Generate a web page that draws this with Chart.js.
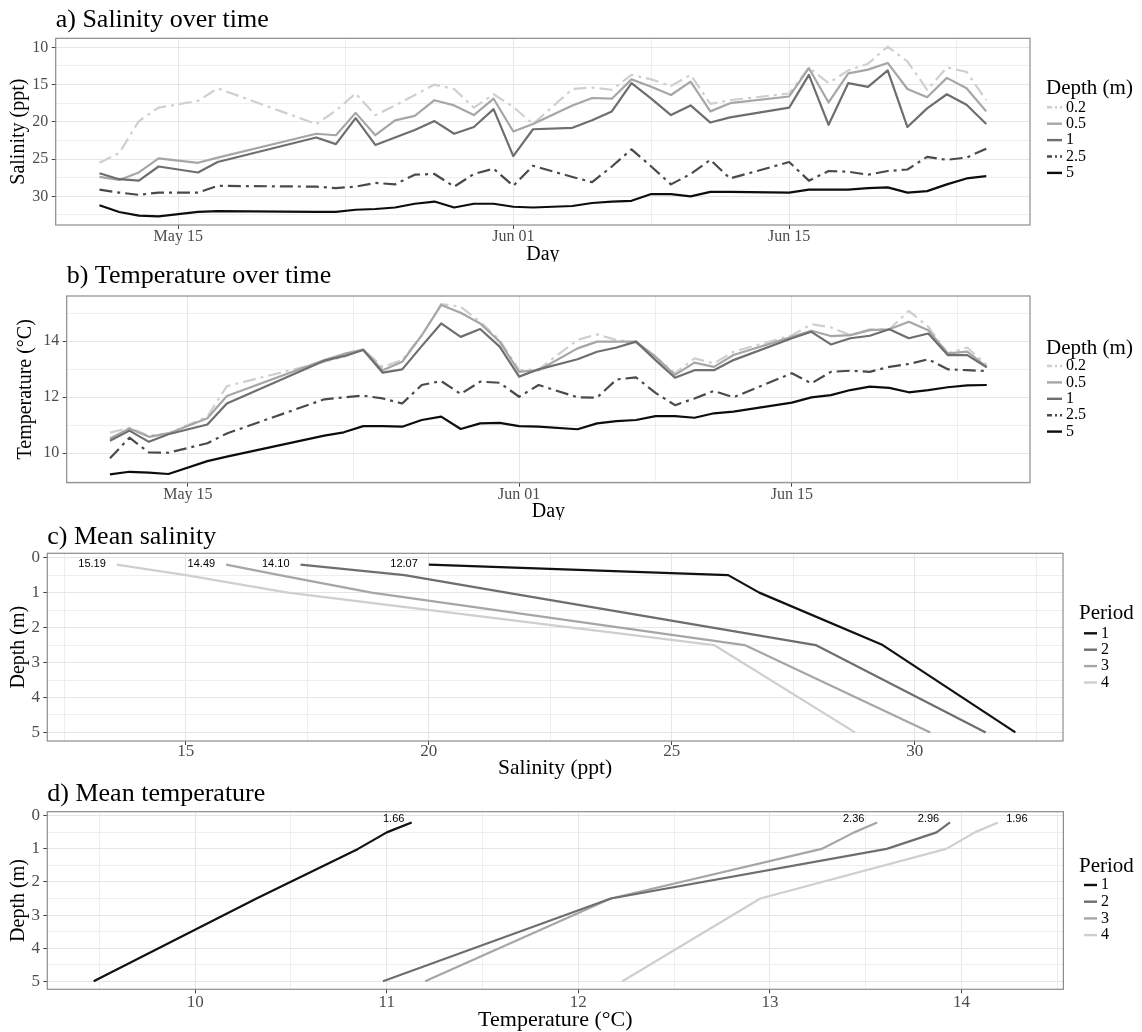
<!DOCTYPE html>
<html>
<head>
<meta charset="utf-8">
<title>Salinity and temperature profiles</title>
<script src="https://cdn.jsdelivr.net/npm/chart.js@4.4.1/dist/chart.umd.min.js"></script>
<style>
  html, body { margin: 0; padding: 0; background: #ffffff; }
  #page { position: relative; width: 1142px; height: 1032px; overflow: hidden; background: #ffffff; }
  #page canvas { position: absolute; left: 0; }
</style>
</head>
<body>
<div id="page">
  <canvas id="salTime" width="1142" height="262" style="top:0px;width:1142px;height:262px"></canvas>
  <canvas id="tmpTime" width="1142" height="258" style="top:262px;width:1142px;height:258px"></canvas>
  <canvas id="salProfile" width="1142" height="260" style="top:520px;width:1142px;height:260px"></canvas>
  <canvas id="tmpProfile" width="1142" height="252" style="top:780px;width:1142px;height:252px"></canvas>
</div>
<script>
// ---------------- data ----------------
// sampling dates (MM-DD) shared by the salinity and temperature series
const sampleDates = ['05-11','05-12','05-13','05-14','05-16','05-17','05-22','05-23','05-24','05-25',
  '05-26','05-27','05-28','05-29','05-30','05-31','06-01','06-02','06-04','06-05','06-06','06-07',
  '06-08','06-09','06-10','06-11','06-12','06-15','06-16','06-17','06-18','06-19','06-20','06-21',
  '06-22','06-23','06-24','06-25'];
const depthLevels = ['0.2', '0.5', '1', '2.5', '5'];

// salinity (ppt) by depth
const sal02 = [25.5, 24.2, 19.9, 18.1, 17.2, 15.5, 20.3, 18.5, 16.2, 19.1, 17.8, 16.4, 15.0, 15.6, 18.1, 16.3, 18.0, 20.3, 15.6, 15.4, 15.7, 13.7, 14.3, 15.2, 13.7, 17.6, 17.1, 16.2, 12.7, 14.8, 13.1, 12.2, 9.9, 11.9, 15.7, 12.7, 13.3, 17.1];
const sal05 = [27.4, 27.8, 26.8, 24.9, 25.5, 24.8, 21.6, 21.8, 18.8, 21.8, 19.8, 19.2, 17.1, 17.8, 19.1, 16.9, 21.3, 20.3, 17.8, 16.8, 16.9, 14.3, 15.3, 16.4, 14.6, 18.6, 17.5, 16.6, 12.8, 17.4, 13.5, 13.0, 12.1, 15.6, 16.7, 14.1, 15.5, 18.6];
const sal1  = [26.9, 27.7, 27.9, 26.0, 26.8, 25.4, 22.1, 23.0, 19.5, 23.1, 22.1, 21.1, 19.9, 21.6, 20.7, 18.3, 24.6, 21.0, 20.8, 19.8, 18.6, 14.8, 16.9, 19.1, 17.8, 20.1, 19.4, 18.1, 13.7, 20.4, 14.8, 15.3, 13.1, 20.7, 18.2, 16.3, 17.7, 20.3];
const sal25 = [29.1, 29.5, 29.8, 29.5, 29.5, 28.6, 28.7, 28.9, 28.7, 28.2, 28.4, 27.1, 27.0, 28.7, 27.0, 26.3, 28.6, 25.9, 27.4, 28.1, 26.0, 23.7, 26.0, 28.4, 27.0, 25.1, 27.6, 25.4, 27.9, 26.6, 26.7, 27.1, 26.6, 26.4, 24.7, 25.1, 24.8, 23.6];
const sal5  = [31.2, 32.1, 32.6, 32.7, 32.1, 32.0, 32.1, 32.1, 31.8, 31.7, 31.5, 31.0, 30.7, 31.5, 31.0, 31.0, 31.4, 31.5, 31.3, 30.9, 30.7, 30.6, 29.7, 29.7, 30.0, 29.4, 29.4, 29.5, 29.1, 29.1, 29.1, 28.9, 28.8, 29.5, 29.3, 28.4, 27.6, 27.3];

// temperature (deg C) by depth
const tmp02 = [10.73, 10.90, 10.62, 10.70, 11.30, 12.39, 13.26, 13.44, 13.70, 13.08, 13.32, 14.20, 15.32, 15.23, 14.69, 14.04, 12.96, 12.99, 14.04, 14.24, 14.04, 13.94, 13.44, 12.85, 13.38, 13.20, 13.62, 14.21, 14.60, 14.49, 14.21, 14.42, 14.42, 15.08, 14.51, 13.56, 13.77, 13.14];
const tmp05 = [10.52, 10.88, 10.58, 10.70, 11.24, 12.04, 13.32, 13.54, 13.70, 12.96, 13.26, 14.20, 15.29, 15.01, 14.63, 13.98, 12.90, 12.96, 13.74, 13.98, 13.98, 13.98, 13.44, 12.79, 13.23, 13.08, 13.50, 14.15, 14.37, 14.18, 14.21, 14.39, 14.42, 14.69, 14.39, 13.56, 13.62, 13.08];
const tmp1  = [10.44, 10.80, 10.40, 10.67, 11.02, 11.77, 13.30, 13.46, 13.68, 12.87, 12.99, 13.82, 14.63, 14.15, 14.43, 13.80, 12.73, 12.99, 13.35, 13.62, 13.77, 13.98, 13.32, 12.69, 12.96, 12.96, 13.32, 14.10, 14.33, 13.88, 14.10, 14.19, 14.42, 14.10, 14.27, 13.50, 13.50, 13.06];
const tmp25 = [9.81, 10.55, 10.02, 10.01, 10.35, 10.70, 11.92, 11.99, 12.05, 11.95, 11.77, 12.43, 12.57, 12.11, 12.55, 12.51, 12.01, 12.43, 11.99, 11.98, 12.63, 12.70, 12.15, 11.71, 11.95, 12.22, 11.99, 12.85, 12.49, 12.90, 12.94, 12.90, 13.08, 13.18, 13.35, 12.99, 12.96, 12.93];
const tmp5  = [9.24, 9.33, 9.30, 9.25, 9.71, 9.87, 10.62, 10.74, 10.96, 10.96, 10.94, 11.18, 11.30, 10.86, 11.06, 11.08, 10.96, 10.94, 10.85, 11.06, 11.14, 11.18, 11.32, 11.32, 11.26, 11.42, 11.48, 11.80, 11.99, 12.07, 12.25, 12.37, 12.33, 12.17, 12.25, 12.35, 12.42, 12.43];

// date axis ticks
const dateTicks = ['05-15', '06-01', '06-15'];
const dateTickLabels = ['May 15', 'Jun 01', 'Jun 15'];
const dateMinorTicks = ['05-23.5', '06-08', '06-23.5'];

// mean profiles per period
const profileDepths = [0.2, 0.5, 1, 2.5, 5];
const periodLabels = ['1', '2', '3', '4'];
const meanSalP1 = [20.00, 26.16, 26.80, 29.34, 32.07];
const meanSalP2 = [17.36, 19.50, 21.60, 27.96, 31.46];
const meanSalP3 = [15.83, 16.93, 18.82, 26.50, 30.32];
const meanSalP4 = [13.58, 15.00, 17.10, 25.87, 28.77];
const meanTmpP1 = [11.13, 11.00, 10.85, 10.32, 9.47];
const meanTmpP2 = [13.94, 13.87, 13.61, 12.17, 10.98];
const meanTmpP3 = [13.56, 13.44, 13.27, 12.17, 11.20];
const meanTmpP4 = [14.19, 14.07, 13.92, 12.95, 12.23];

const salTicks = [10, 15, 20, 25, 30];
const salMinor = [12.5, 17.5, 22.5, 27.5, 32.5];
const tmpTicks = [10, 12, 14];
const tmpMinor = [9, 11, 13, 15];
const depthTicks = [0, 1, 2, 3, 4, 5];
const depthMinor = [0.5, 1.5, 2.5, 3.5, 4.5];
const profSalTicks = [15, 20, 25, 30];
const profSalMinor = [12.5, 17.5, 22.5, 27.5, 32.5];
const profTmpTicks = [10, 11, 12, 13, 14];
const profTmpMinor = [9.5, 10.5, 11.5, 12.5, 13.5, 14.5];

// ---------------- helpers ----------------
const SERIF = '"Liberation Serif", "Times New Roman", serif';
const SANS = '"Liberation Sans", Arial, sans-serif';
const GRID_MAJOR = '#e6e6e6';
const GRID_MINOR = '#eeeeee';
const TICK_MARK = '#444444';
const AXIS_TEXT = '#4d4d4d';

// day count from 1 May (1 Jun = 32)
function dayNum(md) {
  const [m, d] = md.split('-');
  return (+m === 5 ? 0 : 31) + parseFloat(d);
}

const depthColors = ['#cfcfcf', '#a6a6a6', '#6e6e6e', '#4a4a4a', '#0d0d0d'];
const depthDash = [[13, 5, 3, 5], [], [], [13, 5, 3, 5], []];
const depthKeyDash = [[5, 3, 2, 3], [], [], [5, 3, 2, 3], []];
const periodColors = ['#111111', '#6e6e6e', '#a6a6a6', '#cfcfcf'];

Chart.defaults.font.family = SERIF;

function tickSet(majors, minors) {
  return majors.concat(minors).sort((a, b) => a - b);
}

function gridFor(majors, tickLen) {
  return {
    color: c => (c.tick && majors.includes(c.tick.value)) ? GRID_MAJOR : GRID_MINOR,
    lineWidth: 1,
    drawTicks: true,
    tickLength: tickLen,
    tickWidth: 1,
    tickColor: c => (c.tick && majors.includes(c.tick.value)) ? TICK_MARK : 'rgba(0,0,0,0)'
  };
}

// frame around the plotting panel
const panelFrame = {
  id: 'panelFrame',
  afterDatasetsDraw(chart) {
    const { ctx, chartArea: a } = chart;
    ctx.save();
    ctx.strokeStyle = '#8c8c8c';
    ctx.lineWidth = 1.2;
    ctx.strokeRect(a.left, a.top, a.right - a.left, a.bottom - a.top);
    ctx.restore();
  }
};

// key to the right of the panel
const sideLegend = {
  id: 'sideLegend',
  afterDraw(chart, args, o) {
    const ctx = chart.ctx;
    ctx.save();
    ctx.textAlign = 'left';
    ctx.textBaseline = 'middle';
    ctx.fillStyle = '#000000';
    ctx.font = o.titleSize + 'px ' + SERIF;
    ctx.fillText(o.title, o.x, o.titleY);
    ctx.font = o.labelSize + 'px ' + SERIF;
    chart.data.datasets.forEach((ds, i) => {
      const y = o.firstY + i * o.step;
      ctx.save();
      ctx.strokeStyle = ds.borderColor;
      ctx.lineWidth = o.keyWidth;
      ctx.lineCap = 'butt';
      ctx.setLineDash((o.keyDash && o.keyDash[i]) || []);
      ctx.beginPath();
      ctx.moveTo(o.keyX0, y);
      ctx.lineTo(o.keyX1, y);
      ctx.stroke();
      ctx.restore();
      ctx.fillText(ds.label, o.labelX, y);
    });
    ctx.restore();
  }
};

// surface-to-bottom difference written next to each profile's surface point
const profileSpread = {
  id: 'profileSpread',
  afterDatasetsDraw(chart, args, o) {
    const ctx = chart.ctx;
    ctx.save();
    ctx.font = '11px ' + SANS;
    ctx.fillStyle = '#000000';
    ctx.textBaseline = 'middle';
    chart.data.datasets.forEach((ds, i) => {
      const pts = chart.getDatasetMeta(i).data;
      const first = ds.data[0].x;
      const last = ds.data[ds.data.length - 1].x;
      const txt = (Math.round(Math.abs(last - first) * 100) / 100).toFixed(2);
      ctx.textAlign = o.align[i];
      ctx.fillText(txt, pts[0].x + o.dx[i], pts[0].y + o.dy);
    });
    ctx.restore();
  }
};

// ---------------- time series panels ----------------
function timeChart(canvasId, titleText, yTitle, series, yCfg, geo) {
  const xs = sampleDates.map(dayNum);
  const majorsX = dateTicks.map(dayNum);
  const minorsX = dateMinorTicks.map(dayNum);
  const datasets = series.map((vals, i) => ({
    label: depthLevels[i],
    data: vals.map((v, j) => ({ x: xs[j], y: v })),
    borderColor: depthColors[i],
    borderWidth: 2.2,
    borderDash: depthDash[i],
    borderJoinStyle: 'round',
    borderCapStyle: 'butt',
    pointRadius: 0,
    tension: 0,
    fill: false,
    order: series.length - 1 - i
  }));
  return new Chart(document.getElementById(canvasId), {
    type: 'line',
    data: { datasets },
    plugins: [panelFrame, sideLegend],
    options: {
      responsive: false,
      animation: false,
      events: [],
      devicePixelRatio: 1,
      layout: { padding: { left: 0, right: 1142 - geo.right, top: 0, bottom: 0 } },
      plugins: {
        legend: { display: false },
        tooltip: { enabled: false },
        title: {
          display: true, text: titleText, align: 'start', fullSize: false, color: '#000000',
          font: { family: SERIF, size: 26, weight: 'normal', lineHeight: 1 },
          padding: { top: geo.titleTop, bottom: geo.titleBottom }
        },
        sideLegend: geo.legend
      },
      scales: {
        x: {
          type: 'linear',
          min: 8.78, max: 58.22,
          afterBuildTicks: s => { s.ticks = tickSet(majorsX, minorsX).map(v => ({ value: v })); },
          afterFit: s => { s.height = geo.xAxisH; },
          grid: gridFor(majorsX, 4),
          border: { display: false },
          ticks: {
            autoSkip: false, maxRotation: 0, minRotation: 0, padding: 0, color: AXIS_TEXT,
            font: { family: SERIF, size: 16, lineHeight: 1 },
            callback: v => { const k = majorsX.indexOf(v); return k >= 0 ? dateTickLabels[k] : ''; }
          },
          title: {
            display: true, text: 'Day', color: '#000000',
            font: { family: SERIF, size: 20, lineHeight: 1 },
            padding: { top: 0, bottom: geo.xTitleBottom }
          }
        },
        y: {
          type: 'linear',
          reverse: yCfg.reverse,
          min: yCfg.min, max: yCfg.max,
          afterBuildTicks: s => { s.ticks = tickSet(yCfg.majors, yCfg.minors).map(v => ({ value: v })); },
          afterFit: s => { s.width = geo.left; },
          grid: gridFor(yCfg.majors, 4),
          border: { display: false },
          ticks: {
            autoSkip: false, padding: 3.4, color: AXIS_TEXT,
            font: { family: SERIF, size: 16, lineHeight: 1 },
            callback: v => yCfg.majors.includes(v) ? String(v) : ''
          },
          title: {
            display: true, text: yTitle, color: '#000000',
            font: { family: SERIF, size: 20, lineHeight: 1 },
            padding: { top: geo.yTitleTop, bottom: 0 }
          }
        }
      }
    }
  });
}

timeChart('salTime', 'a) Salinity over time', 'Salinity (ppt)',
  [sal02, sal05, sal1, sal25, sal5],
  { reverse: true, min: 8.79, max: 33.85, majors: salTicks, minors: salMinor },
  {
    left: 55.7, right: 1030, xAxisH: 37, titleTop: 7.5, titleBottom: 4.8, xTitleBottom: -2.3, yTitleTop: 8.8,
    legend: { title: 'Depth (m)', x: 1046, titleY: 88.3, titleSize: 21, labelSize: 16, firstY: 107.3, step: 16.4,
              keyX0: 1047, keyX1: 1062, labelX: 1066, keyWidth: 2.4, keyDash: depthKeyDash }
  });

timeChart('tmpTime', 'b) Temperature over time', 'Temperature (°C)',
  [tmp02, tmp05, tmp1, tmp25, tmp5],
  { reverse: false, min: 8.94, max: 15.61, majors: tmpTicks, minors: tmpMinor },
  {
    left: 66.7, right: 1030, xAxisH: 37.3, titleTop: 1.2, titleBottom: 6.8, xTitleBottom: -1.3, yTitleTop: 15.8,
    legend: { title: 'Depth (m)', x: 1046, titleY: 86.3, titleSize: 21, labelSize: 16, firstY: 104, step: 16.4,
              keyX0: 1047, keyX1: 1062, labelX: 1066, keyWidth: 2.4, keyDash: depthKeyDash }
  });

// ---------------- mean profile panels ----------------
function profileChart(canvasId, titleText, xTitle, periods, xCfg, geo, spread) {
  const datasets = periods.map((vals, i) => ({
    label: periodLabels[i],
    data: vals.map((v, j) => ({ x: v, y: profileDepths[j] })),
    borderColor: periodColors[i],
    borderWidth: 2.2,
    borderJoinStyle: 'round',
    borderCapStyle: 'butt',
    pointRadius: 0,
    tension: 0,
    fill: false
  }));
  return new Chart(document.getElementById(canvasId), {
    type: 'line',
    data: { datasets },
    plugins: [panelFrame, sideLegend, profileSpread],
    options: {
      responsive: false,
      animation: false,
      events: [],
      devicePixelRatio: 1,
      layout: { padding: { left: 0, right: 1142 - geo.right, top: 0, bottom: 0 } },
      plugins: {
        legend: { display: false },
        tooltip: { enabled: false },
        title: {
          display: true, text: titleText, align: 'start', fullSize: false, color: '#000000',
          font: { family: SERIF, size: 26, weight: 'normal', lineHeight: 1 },
          padding: { top: geo.titleTop, bottom: geo.titleBottom }
        },
        sideLegend: geo.legend,
        profileSpread: spread
      },
      scales: {
        x: {
          type: 'linear',
          min: xCfg.min, max: xCfg.max,
          afterBuildTicks: s => { s.ticks = tickSet(xCfg.majors, xCfg.minors).map(v => ({ value: v })); },
          afterFit: s => { s.height = geo.xAxisH; },
          grid: gridFor(xCfg.majors, 4),
          border: { display: false },
          ticks: {
            autoSkip: false, maxRotation: 0, minRotation: 0, padding: geo.xTickPad, color: AXIS_TEXT,
            font: { family: SERIF, size: 17, lineHeight: 1 },
            callback: v => xCfg.majors.includes(v) ? String(v) : ''
          },
          title: {
            display: true, text: xTitle, color: '#000000',
            font: { family: SERIF, size: geo.xTitleSize, lineHeight: 1 },
            padding: { top: 0, bottom: geo.xTitleBottom }
          }
        },
        y: {
          type: 'linear',
          reverse: true,
          min: -0.125, max: 5.245,
          afterBuildTicks: s => { s.ticks = tickSet(depthTicks, depthMinor).map(v => ({ value: v })); },
          afterFit: s => { s.width = geo.left; },
          grid: gridFor(depthTicks, 4),
          border: { display: false },
          ticks: {
            autoSkip: false, padding: 3.4, color: AXIS_TEXT,
            font: { family: SERIF, size: 17, lineHeight: 1 },
            callback: v => depthTicks.includes(v) ? String(v) : ''
          },
          title: {
            display: true, text: 'Depth (m)', color: '#000000',
            font: { family: SERIF, size: 20, lineHeight: 1 },
            padding: { top: 8.5, bottom: 0 }
          }
        }
      }
    }
  });
}

profileChart('salProfile', 'c) Mean salinity', 'Salinity (ppt)',
  [meanSalP1, meanSalP2, meanSalP3, meanSalP4],
  { min: 12.15, max: 33.05, majors: profSalTicks, minors: profSalMinor },
  {
    left: 47.3, right: 1063, xAxisH: 39, titleTop: 4.2, titleBottom: 3.1, xTickPad: -1.5, xTitleSize: 21.5, xTitleBottom: 0.5,
    legend: { title: 'Period', x: 1079, titleY: 93.3, titleSize: 21, labelSize: 16, firstY: 113.3, step: 16.4,
              keyX0: 1084, keyX1: 1097, labelX: 1101, keyWidth: 2.4 }
  },
  { align: ['right', 'right', 'right', 'right'], dx: [-11, -11, -11, -11], dy: -1 });

profileChart('tmpProfile', 'd) Mean temperature', 'Temperature (°C)',
  [meanTmpP1, meanTmpP2, meanTmpP3, meanTmpP4],
  { min: 9.228, max: 14.532, majors: profTmpTicks, minors: profTmpMinor },
  {
    left: 47.3, right: 1063.4, xAxisH: 42.7, titleTop: 1.5, titleBottom: 4.2, xTickPad: 0.5, xTitleSize: 22, xTitleBottom: 0.5,
    legend: { title: 'Period', x: 1079, titleY: 86.7, titleSize: 21, labelSize: 16, firstY: 105, step: 16.7,
              keyX0: 1084, keyX1: 1097, labelX: 1101, keyWidth: 2.4 }
  },
  { align: ['center', 'center', 'center', 'center'], dx: [-18, -21.5, -23.5, 19], dy: -3 });
</script>
</body>
</html>
